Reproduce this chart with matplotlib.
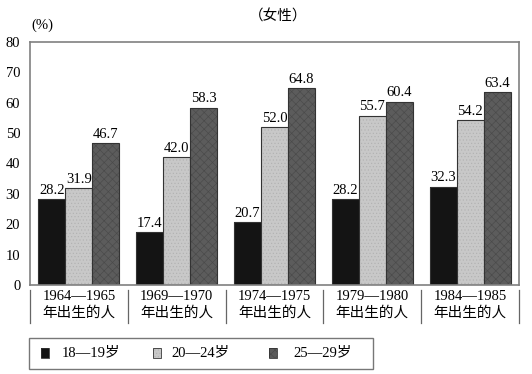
import matplotlib.pyplot as plt
import numpy as np
from matplotlib.patches import Rectangle
import matplotlib.transforms as mtransforms

years = ['1964—1965', '1969—1970', '1974—1975', '1979—1980', '1984—1985']
cohort_suffix = '年出生的人'
age_groups = ['18—19岁', '20—24岁', '25—29岁']
v_18_19 = [28.2, 17.4, 20.7, 28.2, 32.3]
v_20_24 = [31.9, 42.0, 52.0, 55.7, 54.2]
v_25_29 = [46.7, 58.3, 64.8, 60.4, 63.4]
yticks = [0, 10, 20, 30, 40, 50, 60, 70, 80]

FONT = ['Liberation Serif', 'Noto Sans CJK SC']
plt.rcParams['font.family'] = FONT
plt.rcParams['hatch.linewidth'] = 0.45

# face, hatch colour, hatch pattern
styles = [('#141414', '#141414', None),
          ('#c8c8c8', '#b2b2b2', '.....'),
          ('#5c5c5c', '#4a4a4a', 'xxxx')]

fig = plt.figure(figsize=(5.32, 3.74), dpi=100)
ax = fig.add_axes([30/532, 1-285/374, 489/532, 243/374])

x = np.arange(len(years))
w = 0.276
series = [v_18_19, v_20_24, v_25_29]
for i, vals in enumerate(series):
    face, hc, hatch = styles[i]
    pos = x + (i - 1) * w
    ax.bar(pos, vals, w, color=face, edgecolor=hc, hatch=hatch, linewidth=0)
    ax.bar(pos, vals, w, fill=False, edgecolor='#333333', linewidth=0.8)
    for px, v in zip(pos, vals):
        ax.text(px, v + 0.8, f'{v:.1f}', ha='center', va='bottom', fontsize=10.5)

ax.set_xlim(-0.5, len(years) - 0.5)
ax.set_ylim(0, 80)
ax.set_yticks(yticks)
ax.set_xticks([])
ax.tick_params(axis='y', length=0, pad=7, labelsize=10.5)
for s in ax.spines.values():
    s.set_color('#808080')
    s.set_linewidth(1.2)

# category labels and separators under the axis
trans = mtransforms.blended_transform_factory(ax.transData, ax.transAxes)
for b in np.arange(len(years) + 1) - 0.5:
    ax.plot([b, b], [-0.02, -0.158], transform=trans, color='#666666', lw=0.9, clip_on=False)
for xi, yr in zip(x, years):
    ax.text(xi, -0.048, yr, transform=trans, ha='center', va='center', fontsize=10.5)
    ax.text(xi, -0.114, cohort_suffix, transform=trans, ha='center', va='center', fontsize=10.5)

fig.text(42/532, 1-25/374, '(%)', ha='center', va='center', fontsize=10.5)
fig.text(278/532, 1-17/374, '（女性）', ha='center', va='center', fontsize=10.5)

# legend box
fig.add_artist(Rectangle((29/532, 1-369/374), 344/532, 31/374, transform=fig.transFigure,
                         fill=False, edgecolor='#777777', lw=1.0))
patch_x = [41, 153, 269]
text_x = [62, 171, 293]
for i, lab in enumerate(age_groups):
    face, hc, hatch = styles[i]
    fig.add_artist(Rectangle((patch_x[i]/532, 1-358/374), 8/532, 10/374, transform=fig.transFigure,
                             facecolor=face, edgecolor=hc, hatch=hatch, lw=0))
    fig.add_artist(Rectangle((patch_x[i]/532, 1-358/374), 8/532, 10/374, transform=fig.transFigure,
                             fill=False, edgecolor='#333333', lw=0.6))
    fig.text(text_x[i]/532, 1-353/374, lab, ha='left', va='center', fontsize=10.5)

fig.savefig('out.png', dpi=100)
